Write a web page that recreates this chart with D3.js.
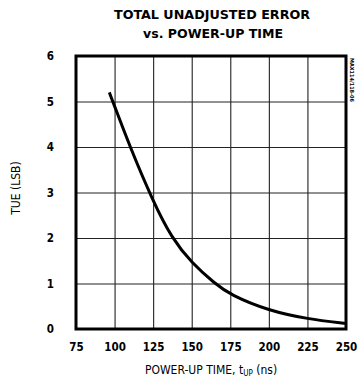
<!DOCTYPE html>
<html><head><meta charset="utf-8">
<script src="https://cdn.jsdelivr.net/npm/d3@7"></script>
<style>
body{margin:0;background:#fff;}
svg{display:block;}
text{font-family:"DejaVu Sans Condensed","Liberation Sans Narrow","Liberation Sans",sans-serif;fill:#000;}
</style></head><body>
<div id="chart"></div>
<script>
const xTicks = [75,100,125,150,175,200,225,250];
const yTicks = [0,1,2,3,4,5,6];
const timeNs = [96.6,100,110,125,137,150,165,175,200,225,250];
const tueLsb = [5.2,4.9,4.0,2.8,2.0,1.45,1.0,0.75,0.4,0.22,0.12];
const titleLines = ["TOTAL UNADJUSTED ERROR","vs. POWER-UP TIME"];

const W=359,H=380;
const m={left:76,right:13,top:56,bottom:51};
const svg=d3.select("#chart").append("svg").attr("width",W).attr("height",H);
const x=d3.scaleLinear().domain([75,250]).range([m.left,W-m.right]);
const y=d3.scaleLinear().domain([0,6]).range([H-m.bottom,m.top]);
const tickFont='"DejaVu Sans Condensed","Liberation Sans Narrow",sans-serif';

// gridlines
svg.append("g").attr("transform",`translate(0,${H-m.bottom})`)
  .call(d3.axisBottom(x).tickValues(xTicks.slice(1,-1)).tickSize(-(H-m.bottom-m.top)).tickFormat(""))
  .call(g=>{g.select(".domain").remove();g.selectAll("line").attr("stroke","#222").attr("stroke-width",1.1);});
svg.append("g").attr("transform",`translate(${m.left},0)`)
  .call(d3.axisLeft(y).tickValues(yTicks.slice(1,-1)).tickSize(-(W-m.right-m.left)).tickFormat(""))
  .call(g=>{g.select(".domain").remove();g.selectAll("line").attr("stroke","#222").attr("stroke-width",1.1);});

// tick labels
svg.append("g").attr("transform",`translate(0,${H-m.bottom})`)
  .call(d3.axisBottom(x).tickValues(xTicks).tickSize(0).tickPadding(14).tickFormat(d3.format("d")))
  .call(g=>{g.select(".domain").remove();g.selectAll("text").attr("font-size",11.5).attr("font-weight","bold").attr("font-family",tickFont);});
svg.append("g").attr("transform",`translate(${m.left},0)`)
  .call(d3.axisLeft(y).tickValues(yTicks).tickSize(0).tickPadding(22).tickFormat(d3.format("d")))
  .call(g=>{g.select(".domain").remove();g.selectAll("text").attr("font-size",11.5).attr("font-weight","bold").attr("font-family",tickFont);});

// frame
svg.append("rect").attr("x",m.left).attr("y",m.top).attr("width",W-m.right-m.left).attr("height",H-m.bottom-m.top)
  .attr("fill","none").attr("stroke","#000").attr("stroke-width",3);

// curve
const data=timeNs.map((t,i)=>[t,tueLsb[i]]);
svg.append("path").datum(data).attr("fill","none").attr("stroke","#000").attr("stroke-width",3)
  .attr("d",d3.line().x(d=>x(d[0])).y(d=>y(d[1])).curve(d3.curveBasis));

// titles
svg.append("text").attr("x",212).attr("y",19).attr("text-anchor","middle").attr("font-size",13).attr("font-weight","900")
  .attr("textLength",196).attr("lengthAdjust","spacingAndGlyphs").text(titleLines[0]);
svg.append("text").attr("x",213).attr("y",38).attr("text-anchor","middle").attr("font-size",13).attr("font-weight","900")
  .attr("textLength",140).attr("lengthAdjust","spacingAndGlyphs").text(titleLines[1]);

// axis titles
const xt=svg.append("text").attr("x",211).attr("y",374).attr("text-anchor","middle").attr("font-size",12);
xt.append("tspan").text("POWER-UP TIME, t");
xt.append("tspan").attr("font-size",8).attr("dy",2).text("UP");
xt.append("tspan").attr("dy",-2).text(" (ns)");
svg.append("text").attr("transform","translate(20,188) rotate(-90)").attr("text-anchor","middle").attr("font-size",12).text("TUE (LSB)");

// side code
svg.append("text").attr("transform","translate(350,58) rotate(90)").attr("font-size",5.5).attr("font-weight","bold").text("MAX114/118-06");
</script></body></html>
